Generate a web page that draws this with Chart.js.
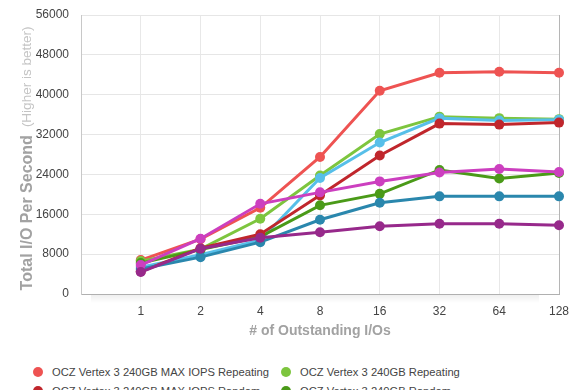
<!DOCTYPE html>
<html>
<head>
<meta charset="utf-8">
<script src="https://cdn.jsdelivr.net/npm/chart.js"></script>
<style>
  html,body{margin:0;padding:0;background:#fff;width:580px;height:390px;overflow:hidden;}
  #wrap{position:relative;width:580px;height:345px;}
  #legend{position:absolute;left:33px;top:362px;display:grid;grid-template-columns:248px 248px;row-gap:0;
    font:11.2px "Liberation Sans",Arial,sans-serif;color:#444;}
  #legend .it{display:flex;align-items:center;height:19px;white-space:nowrap;}
  #legend .dot{width:10px;height:10px;border-radius:50%;margin-right:9px;flex:none;}
</style>
</head>
<body>
<div id="wrap"><canvas id="c"></canvas></div>
<div id="legend"></div>
<script>
// ---- data ----
const CATEGORIES = ['1','2','4','8','16','32','64','128'];
const Y_TICKS = [0,8000,16000,24000,32000,40000,48000,56000];
const SERIES_NAMES = [
  'OCZ Vertex 3 240GB MAX IOPS Repeating',
  'OCZ Vertex 3 240GB Repeating',
  'OCZ Vertex 3 240GB MAX IOPS Random',
  'OCZ Vertex 3 240GB Random',
  'OCZ Vertex 3 120GB Repeating',
  'OCZ Vertex 3 120GB Random',
  'Corsair Force GT 120GB Repeating',
  'Corsair Force GT 120GB Random'
];
const MAX_IOPS_REPEATING = [6800, 11000, 17300, 27500, 40800, 44400, 44600, 44400];
const REPEATING          = [6600,  9000, 15100, 23800, 32100, 35600, 35300, 35100];
const MAX_IOPS_RANDOM    = [4500,  9200, 12000, 19800, 27800, 34200, 34000, 34400];
const RANDOM             = [6200,  8900, 11500, 17800, 20100, 24900, 23200, 24300];
const BLUE_SERIES        = [5400,  7900, 10800, 23300, 30400, 35300, 34800, 35000];
const TEAL_SERIES        = [5000,  7400, 10400, 14900, 18300, 19600, 19600, 19600];
const MAGENTA_SERIES     = [5800, 11100, 18100, 20400, 22600, 24400, 25100, 24500];
const PURPLE_SERIES      = [4400,  9100, 11300, 12400, 13600, 14100, 14100, 13800];
const SERIES_VALUES = [MAX_IOPS_REPEATING, REPEATING, MAX_IOPS_RANDOM, RANDOM, BLUE_SERIES, TEAL_SERIES, MAGENTA_SERIES, PURPLE_SERIES];
const COLORS = ['#ee5352','#7dc53e','#c0262c','#4a9a18','#57bfe9','#2a87ad','#cc3fbf','#97298b'];
const DRAW_ORDER = [8,7,4,5,6,3,2,1]; // higher = drawn lower
const Y_TITLE = 'Total I/O Per Second';
const Y_SUB = '(Higher is better)';
const X_TITLE = '# of Outstanding I/Os';

const FONT = '"Liberation Sans", Arial, Helvetica, sans-serif';

// ---- legend (html) ----
const leg = document.getElementById('legend');
SERIES_NAMES.forEach((n,i)=>{
  const d=document.createElement('div');d.className='it';
  d.innerHTML=`<span class="dot" style="background:${COLORS[i]}"></span><span>${n}</span>`;
  leg.appendChild(d);
});

// ---- axis titles + shadow ----
const titles = {
  id:'titles',
  beforeDatasetsDraw(chart){
    const ctx=chart.ctx, a=chart.chartArea;
    ctx.save();
    const g=ctx.createLinearGradient(0,a.bottom,0,a.bottom+9);
    g.addColorStop(0,'rgba(0,0,0,0.07)');g.addColorStop(1,'rgba(0,0,0,0)');
    ctx.fillStyle=g;
    ctx.fillRect(a.left+10,a.bottom+1,a.right-a.left-30,9);
    ctx.restore();
  },
  afterDraw(chart){
    const ctx=chart.ctx, a=chart.chartArea;
    ctx.save();
    ctx.textBaseline='middle';
    // y title
    ctx.translate(28,0);
    ctx.rotate(-Math.PI/2);
    const f1='bold 16px '+FONT, f2='13.5px '+FONT;
    ctx.font=f1;
    const w1=ctx.measureText(Y_TITLE).width;
    ctx.font=f2;
    const w2=ctx.measureText(Y_SUB).width;
    const gap=8, total=w1+gap+w2, cy=158.5;
    const start=-(cy+total/2);
    ctx.textAlign='left';
    ctx.font=f1; ctx.fillStyle='#a2a2a2';
    ctx.fillText(Y_TITLE,start,0);
    ctx.font=f2; ctx.fillStyle='#c4c4c4';
    ctx.fillText(Y_SUB,start+w1+gap,-1);
    ctx.restore();
    // x title
    ctx.save();
    ctx.font='bold 14px '+FONT; ctx.fillStyle='#a2a2a2';
    ctx.textAlign='center'; ctx.textBaseline='middle';
    ctx.fillText(X_TITLE,(a.left+a.right)/2,331);
    ctx.restore();
  }
};

const labels=[''].concat(CATEGORIES);
const datasets=SERIES_NAMES.map((n,i)=>({
  label:n,
  data:[null].concat(SERIES_VALUES[i]),
  borderColor:COLORS[i],
  backgroundColor:COLORS[i],
  pointBackgroundColor:COLORS[i],
  pointBorderColor:COLORS[i],
  borderWidth:3,
  pointRadius:5,
  pointBorderWidth:0,
  tension:0,
  order:DRAW_ORDER[i]
}));

new Chart(document.getElementById('c'),{
  type:'line',
  data:{labels,datasets},
  options:{
    responsive:true, maintainAspectRatio:false, animation:false,
    layout:{padding:{top:15,right:21,left:0,bottom:0}},
    plugins:{legend:{display:false},tooltip:{enabled:false}},
    scales:{
      x:{
        offset:false,
        grid:{color:(c)=> c.index===labels.length-1 ? '#b5b5b5' : '#e8e8e8', drawTicks:false, lineWidth:1},
        border:{color:'#b0b0b0'},
        ticks:{color:'#444',font:{family:FONT,size:12},padding:10,autoSkip:false,maxRotation:0},
        afterFit(s){ s.height=51; }
      },
      y:{
        min:0,max:56000,
        afterBuildTicks(s){ s.ticks=Y_TICKS.map(v=>({value:v})); },
        grid:{color:'#e6e6e6',drawTicks:false},
        border:{color:'#c8c8c8'},
        ticks:{color:'#444',font:{family:FONT,size:12,lineHeight:0.8},padding:12,callback:(v)=>String(v)},
        afterFit(s){ s.width=81; s.paddingTop=0; s.paddingBottom=0; }
      }
    }
  },
  plugins:[titles]
});
</script>
</body>
</html>
